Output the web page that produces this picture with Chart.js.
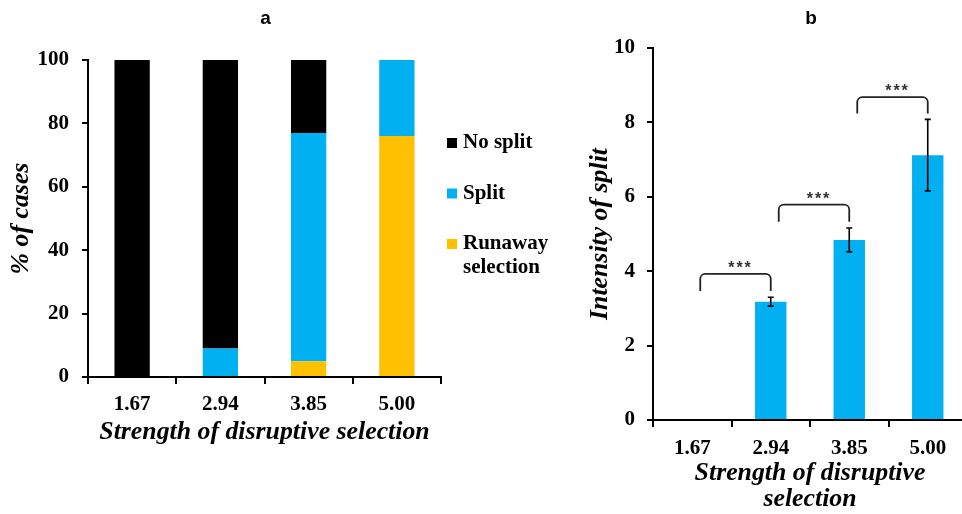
<!DOCTYPE html>
<html><head><meta charset="utf-8">
<script src="https://cdn.jsdelivr.net/npm/chart.js@4"></script>
<style>
html,body{margin:0;padding:0;background:#fff;overflow:hidden;width:962px;height:514px}
#wa{position:absolute;left:0;top:0;width:580px;height:514px}
#wb{position:absolute;left:480px;top:0;width:482px;height:514px;overflow:hidden}
canvas{display:block}
</style></head><body>
<div id="wa"><canvas id="ca" width="580" height="514"></canvas></div>
<div id="wb"><canvas id="cb" width="500" height="514"></canvas></div>
<script>
// ---- data ----
const categories = ['1.67', '2.94', '3.85', '5.00'];
const noSplit = [100, 91, 23, 0];
const split = [0, 9, 72, 24];
const runaway = [0, 0, 5, 76];
const pctTicks = [0, 20, 40, 60, 80, 100];

const intensity = [0, 3.18, 4.84, 7.12];
const intensityErr = [0, 0.12, 0.32, 0.96];
const intensityTicks = [0, 2, 4, 6, 8, 10];

// significance brackets: category indices and value levels
const bracketFrom = [0, 1, 2];
const bracketTo = [1, 2, 3];
const bracketTop = [3.93, 5.79, 8.68];
const bracketBottom = [3.47, 5.33, 8.24];
const bracketLabels = ['***', '***', '***'];

// ---- styles ----
const serif = '"Liberation Serif", "Times New Roman", Times, serif';
const sans = '"Liberation Sans", Arial, Helvetica, sans-serif';
const tickFont = {family: serif, size: 21, weight: 'bold'};
const titleFont = {family: serif, size: 25.8, weight: 'bold', style: 'italic', lineHeight: 1.03};

function axisX(h, text, pad) {
  return {
    grid: {offset: true, drawOnChartArea: false, drawTicks: true, tickLength: 7, color: '#000', lineWidth: 2},
    border: {display: true, color: '#000', width: 2},
    ticks: {font: tickFont, color: '#000', padding: pad},
    title: {display: true, text: text, font: titleFont, color: '#000', padding: {top: 0, bottom: 1}},
    afterFit(s) { s.height = h; }
  };
}
function axisY(w, text, ticksArr, min, max, titlePad, pad) {
  return {
    min: min, max: max,
    afterBuildTicks(s) { s.ticks = ticksArr.map(v => ({value: v})); },
    grid: {drawOnChartArea: false, drawTicks: true, tickLength: 6, color: '#000', lineWidth: 2},
    border: {display: true, color: '#000', width: 2},
    ticks: {font: tickFont, color: '#000', padding: pad},
    title: {display: true, text: text, font: titleFont, color: '#000', padding: {top: titlePad, bottom: 0}},
    afterFit(s) { s.width = w; }
  };
}

const panelTitle = (letter) => ({
  id: 'panelTitle' + letter,
  afterDraw(chart) {
    const ctx = chart.ctx, a = chart.chartArea;
    ctx.save();
    ctx.font = 'bold 19px ' + sans;
    ctx.fillStyle = '#000';
    ctx.textAlign = 'center';
    ctx.textBaseline = 'alphabetic';
    ctx.fillText(letter, (a.left + a.right) / 2 + 1, 24);
    ctx.restore();
  }
});

const legendPlugin = {
  id: 'sideLegend',
  afterDraw(chart) {
    const ctx = chart.ctx;
    const ds = chart.data.datasets.slice().reverse();
    ctx.save();
    ctx.font = 'bold 21px ' + serif;
    ctx.textBaseline = 'middle';
    ctx.textAlign = 'left';
    let y = 143;
    ds.forEach(d => {
      ctx.fillStyle = d.backgroundColor;
      ctx.fillRect(447, y - 5, 10, 10);
      ctx.fillStyle = '#000';
      const words = d.label.split(' ');
      const lines = [];
      let cur = '';
      words.forEach(w => {
        const t = cur ? cur + ' ' + w : w;
        if (cur && ctx.measureText(t).width > 95) { lines.push(cur); cur = w; } else cur = t;
      });
      lines.push(cur);
      lines.forEach((l, k) => ctx.fillText(l, 463, y + k * 24));
      y += 50.5;
    });
    ctx.restore();
  }
};

const errorBars = {
  id: 'errorBars',
  afterDatasetsDraw(chart) {
    const ctx = chart.ctx, ys = chart.scales.y;
    const meta = chart.getDatasetMeta(0);
    ctx.save();
    ctx.strokeStyle = '#000';
    ctx.lineWidth = 1.6;
    intensity.forEach((v, i) => {
      const e = intensityErr[i];
      if (!e) return;
      const x = meta.data[i].x;
      const t = ys.getPixelForValue(v + e), b = ys.getPixelForValue(v - e);
      ctx.beginPath();
      ctx.moveTo(x, t); ctx.lineTo(x, b);
      ctx.moveTo(x - 3, t); ctx.lineTo(x + 3, t);
      ctx.moveTo(x - 3, b); ctx.lineTo(x + 3, b);
      ctx.stroke();
    });
    ctx.restore();
  }
};

const bracketsPlugin = {
  id: 'brackets',
  afterDatasetsDraw(chart) {
    const ctx = chart.ctx, xs = chart.scales.x, ys = chart.scales.y;
    ctx.save();
    ctx.strokeStyle = '#222';
    ctx.lineWidth = 1.8;
    const r = 5;
    bracketFrom.forEach((f, i) => {
      const xl = xs.getPixelForValue(f) + 8;
      const xr = xs.getPixelForValue(bracketTo[i]);
      const yt = ys.getPixelForValue(bracketTop[i]);
      const yb = ys.getPixelForValue(bracketBottom[i]);
      ctx.beginPath();
      ctx.moveTo(xl, yb);
      ctx.lineTo(xl, yt + r);
      ctx.arcTo(xl, yt, xl + r, yt, r);
      ctx.lineTo(xr - r, yt);
      ctx.arcTo(xr, yt, xr, yt + r, r);
      ctx.lineTo(xr, yb);
      ctx.stroke();
      ctx.fillStyle = '#333';
      ctx.font = 'bold 16px ' + sans;
      ctx.textAlign = 'center';
      ctx.textBaseline = 'alphabetic';
      try { ctx.letterSpacing = '2px'; } catch (e) {}
      ctx.fillText(bracketLabels[i], (xl + xr) / 2 + 5, yt - 1);
    });
    ctx.restore();
  }
};

// ---- panel a ----
new Chart(document.getElementById('ca'), {
  type: 'bar',
  data: {
    labels: categories,
    datasets: [
      {label: 'Runaway selection', data: runaway, backgroundColor: '#FFC000'},
      {label: 'Split', data: split, backgroundColor: '#00B0F0'},
      {label: 'No split', data: noSplit, backgroundColor: '#000000'}
    ]
  },
  options: {
    responsive: false, animation: false,
    datasets: {bar: {categoryPercentage: 0.4, barPercentage: 1, borderWidth: 0}},
    layout: {padding: {left: 0, top: 60, right: 139, bottom: 67}},
    plugins: {legend: {display: false}, tooltip: {enabled: false}},
    scales: {
      x: Object.assign({stacked: true}, axisX(70, 'Strength of disruptive selection', 8)),
      y: Object.assign({stacked: true}, axisY(88, '% of cases', pctTicks, 0, 100, 8, 13))
    }
  },
  plugins: [legendPlugin, panelTitle('a')]
});

// ---- panel b ----
new Chart(document.getElementById('cb'), {
  type: 'bar',
  data: {
    labels: categories,
    datasets: [
      {label: 'Intensity of split', data: intensity, backgroundColor: '#00B0F0'}
    ]
  },
  options: {
    responsive: false, animation: false,
    datasets: {bar: {categoryPercentage: 0.4, barPercentage: 1, borderWidth: 0}},
    layout: {padding: {left: 0, top: 48, right: 13, bottom: 0}},
    plugins: {legend: {display: false}, tooltip: {enabled: false}},
    scales: {
      x: axisX(94, ['Strength of disruptive', 'selection'], 9),
      y: axisY(173, 'Intensity of split', intensityTicks, 0, 10, 107, 12)
    }
  },
  plugins: [errorBars, bracketsPlugin, panelTitle('b')]
});
</script>
</body></html>
